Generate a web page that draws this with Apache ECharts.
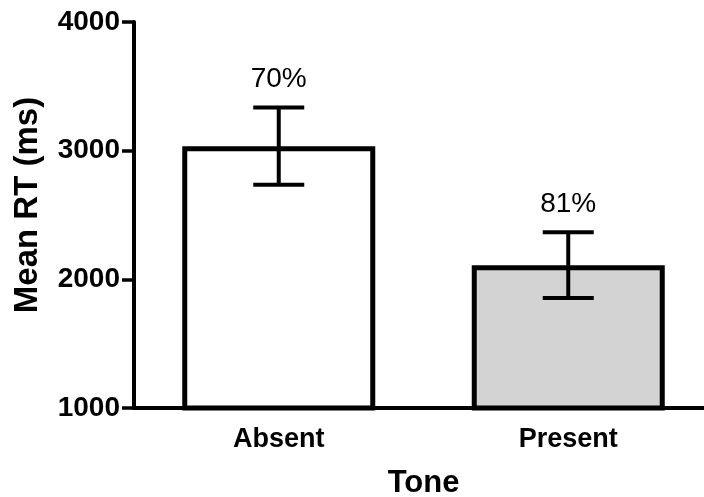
<!DOCTYPE html>
<html>
<head>
<meta charset="utf-8">
<script src="https://cdn.jsdelivr.net/npm/echarts@6/dist/echarts.min.js"></script>
<style>
  html, body { margin: 0; padding: 0; background: #fff; overflow: hidden; }
  #chart { width: 704px; height: 497px; }
</style>
</head>
<body>
<div id="chart"></div>
<script>
// Mean response time by tone condition, with SEM error bars and accuracy labels
const categories = ['Absent', 'Present'];
const meanRT = [3035, 2110];
const semRT = [300, 255];
const accuracyPct = [70, 81];
const yTicks = [1000, 2000, 3000, 4000];

const FONT = '"Liberation Sans", Arial, Helvetica, sans-serif';
const fills = ['#ffffff', '#d3d3d3'];

const chart = echarts.init(document.getElementById('chart'), null, { renderer: 'canvas' });

const errorData = categories.map((c, i) => [i, meanRT[i] - semRT[i], meanRT[i] + semRT[i], accuracyPct[i]]);

chart.setOption({
  animation: false,
  backgroundColor: '#ffffff',
  // the x axis runs on past the right edge of the canvas
  grid: { left: 134, right: -9, top: 22, bottom: 89, containLabel: false, outerBoundsMode: 'none' },
  xAxis: {
    type: 'category',
    data: categories,
    boundaryGap: true,
    name: 'Tone',
    nameLocation: 'middle',
    nameGap: 60,
    nameTextStyle: { fontFamily: FONT, fontSize: 31, fontWeight: 'bold', color: '#000' },
    axisLine: { lineStyle: { color: '#000', width: 4 } },
    axisTick: { alignWithLabel: true, length: 12, lineStyle: { color: '#000', width: 3.5 } },
    axisLabel: { fontFamily: FONT, fontSize: 27, fontWeight: 'bold', color: '#000', margin: 18 },
    splitLine: { show: false }
  },
  yAxis: {
    type: 'value',
    min: yTicks[0],
    max: yTicks[yTicks.length - 1],
    interval: 1000,
    name: 'Mean RT (ms)',
    nameLocation: 'middle',
    nameGap: 90,
    nameRotate: 90,
    nameTextStyle: { fontFamily: FONT, fontSize: 33, fontWeight: 'bold', color: '#000', padding: [0, 0, 0, 20] },
    axisLine: { show: true, lineStyle: { color: '#000', width: 4 } },
    axisTick: { show: true, length: 12, lineStyle: { color: '#000', width: 3.5 } },
    axisLabel: {
      fontFamily: FONT, fontSize: 28, fontWeight: 'bold', color: '#000', margin: 14,
      formatter: function (v) { return String(v); }
    },
    splitLine: { show: false }
  },
  series: [
    {
      type: 'bar',
      barWidth: 193,
      z: 2,
      data: meanRT.map((v, i) => ({
        value: v,
        itemStyle: { color: fills[i], borderColor: '#000', borderWidth: 5 }
      }))
    },
    {
      type: 'custom',
      z: 5,
      data: errorData,
      renderItem: function (params, api) {
        const idx = api.value(0);
        const lo = api.coord([idx, api.value(1)]);
        const hi = api.coord([idx, api.value(2)]);
        const half = 25.5;
        const stroke = { stroke: '#000', lineWidth: 4 };
        return {
          type: 'group',
          children: [
            { type: 'line', shape: { x1: hi[0], y1: hi[1], x2: lo[0], y2: lo[1] }, style: stroke },
            { type: 'line', shape: { x1: hi[0] - half, y1: hi[1], x2: hi[0] + half, y2: hi[1] }, style: stroke },
            { type: 'line', shape: { x1: lo[0] - half, y1: lo[1], x2: lo[0] + half, y2: lo[1] }, style: stroke },
            {
              type: 'text',
              x: hi[0],
              y: hi[1] - 14,
              style: {
                text: api.value(3) + '%',
                fontFamily: FONT,
                fontSize: 28,
                fill: '#000',
                align: 'center',
                verticalAlign: 'bottom'
              }
            }
          ]
        };
      }
    }
  ]
});
</script>
</body>
</html>
